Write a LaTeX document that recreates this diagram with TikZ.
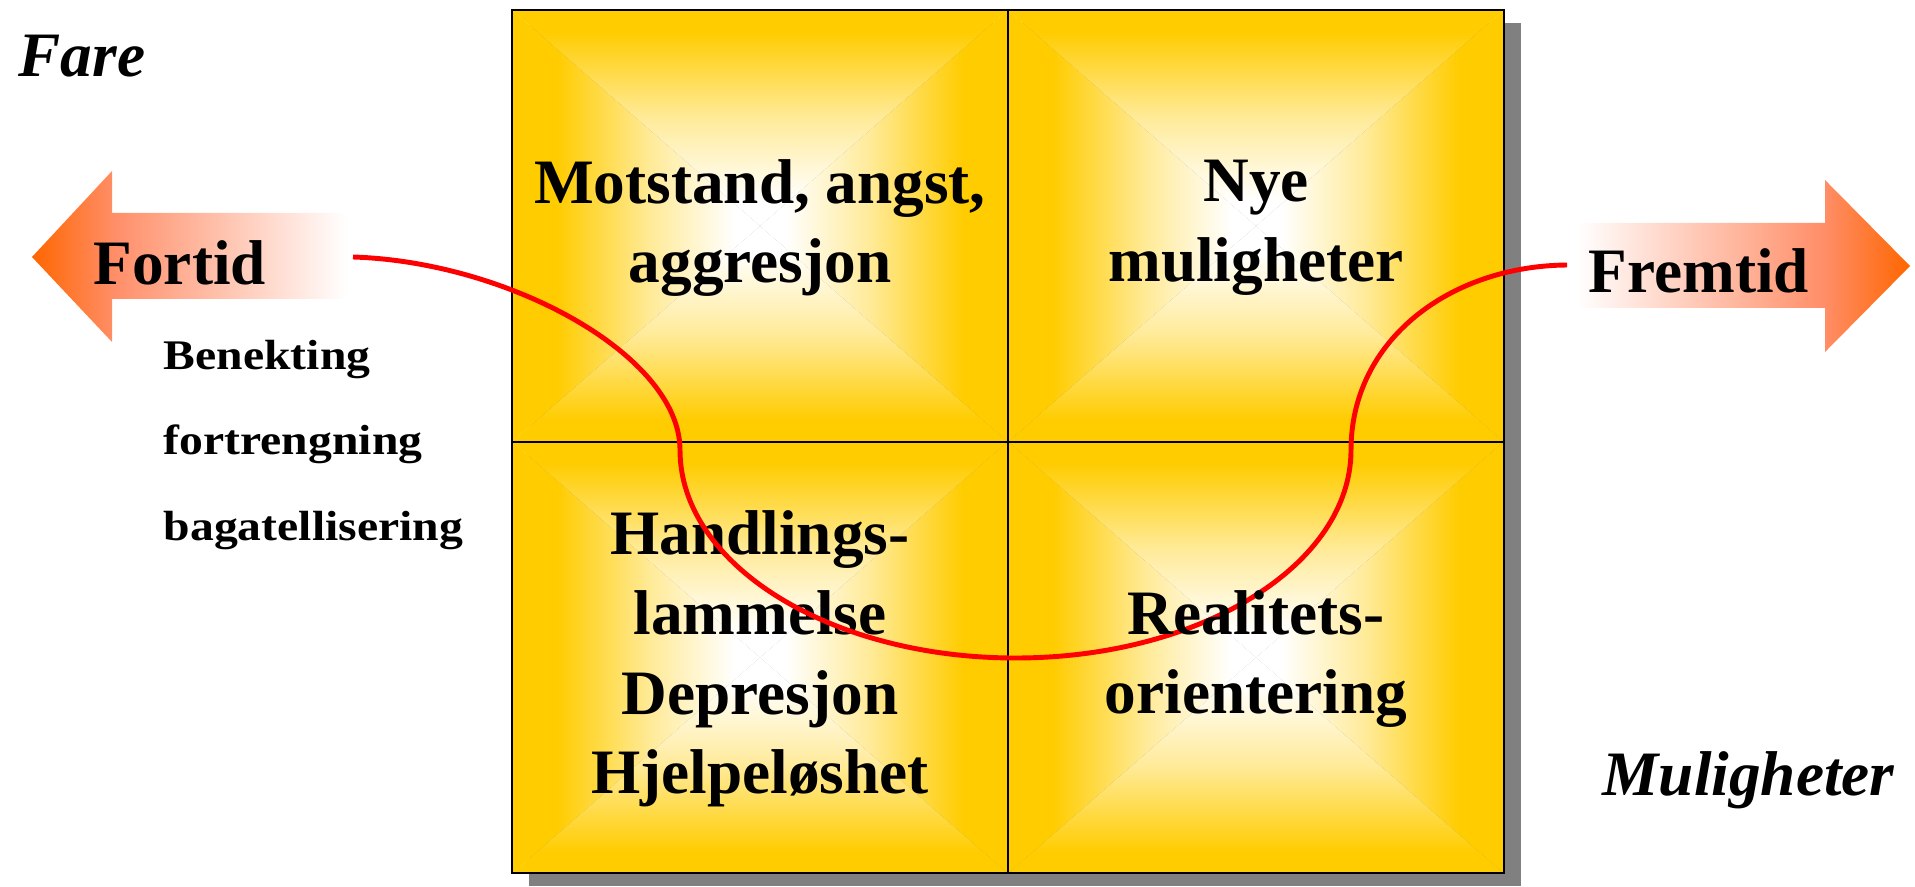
\documentclass[tikz,border=0pt]{standalone}
\usepackage{fontspec}
\setmainfont{Liberation Serif}
\usetikzlibrary{positioning}
\definecolor{CellGold}{RGB}{255,204,0}
\definecolor{ShadowGray}{RGB}{128,128,128}
\definecolor{ArrowOrange}{RGB}{255,102,0}
\definecolor{ArrowSalmon}{RGB}{255,142,104}
\definecolor{CurveRed}{RGB}{255,0,0}
\pgfdeclareverticalshading{glowup}{100bp}{color(0bp)=(white); color(25bp)=(white); color(31bp)=(white); color(50bp)=(CellGold!40!white); color(70bp)=(CellGold); color(100bp)=(CellGold)}
\pgfdeclarehorizontalshading{glowright}{100bp}{color(0bp)=(white); color(25bp)=(white); color(30bp)=(white); color(47bp)=(CellGold!40!white); color(66bp)=(CellGold); color(100bp)=(CellGold)}
\pgfdeclarehorizontalshading{fadeout}{100bp}{color(0bp)=(ArrowOrange); color(25bp)=(ArrowOrange); color(38bp)=(ArrowSalmon); color(75bp)=(white); color(100bp)=(white)}

\begin{document}
\begin{tikzpicture}[every node/.style={inner sep=0pt},
  celltext/.style={font=\fontsize{18}{22.7}\selectfont\bfseries, align=center},
  bigword/.style={anchor=base west, font=\fontsize{18}{22}\selectfont\bfseries},
  listtext/.style={anchor=base west, font=\fontsize{12}{14}\selectfont\bfseries, xscale=1.13, transform shape}]
  \useasboundingbox (0,0) rectangle (19.15,8.86);

  % shadow and glowing cells
  \fill[ShadowGray] (5.29,0.00) rectangle (15.21,8.63);
  \foreach \cx/\cy in {7.60/6.60, 12.56/6.60, 7.60/2.285, 12.56/2.285} {
    \begin{scope}[shift={(\cx,\cy)}]
      \shade[shading=glowup] (-2.48,2.16) -- (2.48,2.16) -- (0,0) -- cycle;
      \shade[shading=glowup, shading angle=180] (-2.48,-2.16) -- (2.48,-2.16) -- (0,0) -- cycle;
      \shade[shading=glowright] (2.48,2.16) -- (2.48,-2.16) -- (0,0) -- cycle;
      \shade[shading=glowright, shading angle=180] (-2.48,2.16) -- (-2.48,-2.16) -- (0,0) -- cycle;
    \end{scope}
  }
  \draw[line width=0.45pt] (10.08,0.13) -- (10.08,8.76);
  \draw[line width=0.6pt] (5.12,4.44) -- (15.04,4.44);
  \draw[line width=0.75pt] (5.12,0.13) rectangle (15.04,8.76);

  % arrows
  \shade[shading=fadeout] (0.32,6.29) -- (1.12,7.15) -- (1.12,6.73) -- (3.47,6.73)
    -- (3.47,5.87) -- (1.12,5.87) -- (1.12,5.44) -- cycle;
  \shade[shading=fadeout, shading angle=180] (15.77,6.63) -- (18.25,6.63) -- (18.25,7.06)
    -- (19.10,6.20) -- (18.25,5.34) -- (18.25,5.78) -- (15.77,5.78) -- cycle;
  \coordinate (fortidend) at (3.53,6.29);
  \coordinate (fremtidstart) at (15.67,6.21);

  \node[bigword, font=\fontsize{18}{22}\selectfont\bfseries\itshape] (fare) at (0.18,8.09) {Fare};
  \node[bigword, font=\fontsize{18}{22}\selectfont\bfseries\itshape] (muligheter) at (16.02,0.91) {Muligheter};
  \node[bigword] (fortid) at (0.93,6.01) {Fortid};
  \node[bigword] (fremtid) at (15.88,5.93) {Fremtid};
  \node[listtext] (benekting) at (1.63,5.16) {Benekting};
  \node[listtext] (fortrengning) at (1.63,4.31) {fortrengning};
  \node[listtext] (bagatell) at (1.63,3.46) {bagatellisering};

  \node[celltext] (motstand) at (7.60,6.58) {Motstand, angst,\\aggresjon};
  \node[celltext] (nye) at (12.56,6.58) {Nye\\muligheter};
  \node[celltext] (handling) at (7.60,2.27) {Handlings-\\lammelse\\Depresjon\\Hjelpeløshet};

  % the curve from past to future
  \draw[CurveRed, line width=1.4pt] (fortidend) .. controls (5.10,6.24) and (6.80,5.30) .. (6.80,4.36)
    arc[start angle=180, end angle=360, x radius=3.355, y radius=2.08]
    .. controls (13.51,5.46) and (14.50,6.20) .. (fremtidstart);

  \node[celltext] (realitet) at (12.56,2.27) {Realitets-\\orientering};
\end{tikzpicture}
\end{document}
